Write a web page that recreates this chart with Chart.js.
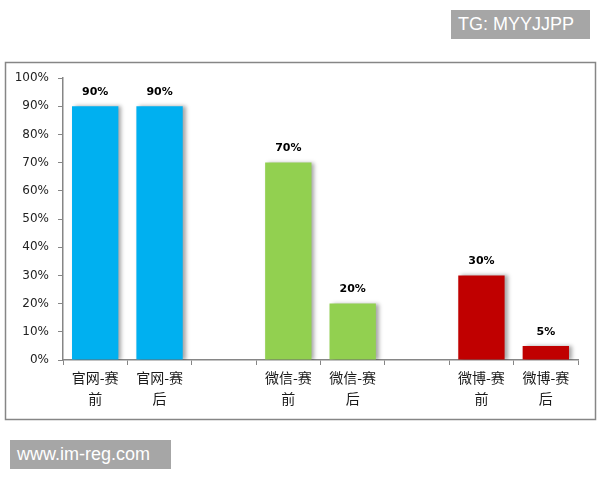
<!DOCTYPE html>
<html>
<head>
<meta charset="utf-8">
<script src="https://cdn.jsdelivr.net/npm/chart.js@4.4.1/dist/chart.umd.min.js"></script>
<style>
  body { margin: 0; background: #fff; }
  #wrap { position: relative; width: 600px; height: 480px; }
  .mark {
    position: absolute; background: #a6a6a6; color: #fff;
    font-family: "Liberation Sans", Arial, sans-serif; font-size: 18px;
    line-height: 29px; padding: 0 7px; box-sizing: border-box;
  }
</style>
</head>
<body>
<div id="wrap">
  <canvas id="chart" width="600" height="480"></canvas>
  <div class="mark" style="left:451px; top:10px; width:139px; height:29px;">TG: MYYJJPP</div>
  <div class="mark" style="left:10px; top:440px; width:161px; height:29px;">www.im-reg.com</div>
</div>
<script>
// categories (empty slots are the gaps between groups)
const categories = [
    ['官网-赛', '前'], ['官网-赛', '后'], '',
    ['微信-赛', '前'], ['微信-赛', '后'], '',
    ['微博-赛', '前'], ['微博-赛', '后']
];
const values = [90, 90, null, 70, 20, null, 30, 5];
const barColors = ['#00b0f0', '#00b0f0', '#fff', '#92d050', '#92d050', '#fff', '#c00000', '#c00000'];
const yTicks = [0, 10, 20, 30, 40, 50, 60, 70, 80, 90, 100];

// white background + grey frame round the chart
const framePlugin = {
    id: 'frame',
    beforeDraw(chart) {
        const ctx = chart.ctx;
        ctx.save();
        ctx.fillStyle = '#fff';
        ctx.fillRect(0, 0, chart.width, chart.height);
        ctx.strokeStyle = '#868686';
        ctx.lineWidth = 1.5;
        ctx.strokeRect(5.5, 62.5, 590, 357);
        ctx.restore();
    }
};

// soft shadow on the right of the bars
const shadowPlugin = {
    id: 'barShadow',
    beforeDatasetsDraw(chart) {
        const ctx = chart.ctx;
        ctx.save();
        ctx.shadowColor = 'rgba(0,0,0,0.35)';
        ctx.shadowBlur = 4;
        ctx.shadowOffsetX = 3;
        ctx.shadowOffsetY = 0;
    },
    afterDatasetsDraw(chart) {
        chart.ctx.restore();
    }
};

// value labels above bars
const labelPlugin = {
    id: 'valueLabels',
    afterDatasetsDraw(chart) {
        const ctx = chart.ctx;
        const meta = chart.getDatasetMeta(0);
        ctx.save();
        ctx.font = 'bold 11px "DejaVu Sans"';
        ctx.fillStyle = '#000';
        ctx.textAlign = 'center';
        ctx.textBaseline = 'middle';
        meta.data.forEach((bar, i) => {
            if (values[i] == null) return;
            ctx.fillText(values[i] + '%', bar.x, bar.y - 14);
        });
        ctx.restore();
    }
};

new Chart(document.getElementById('chart'), {
    type: 'bar',
    data: {
        labels: categories,
        datasets: [{
            data: values,
            backgroundColor: barColors,
            borderWidth: 0,
            categoryPercentage: 1,
            barPercentage: 0.72
        }]
    },
    options: {
        responsive: false,
        animation: false,
        layout: { padding: { left: 13, right: 22, top: 78, bottom: 60 } },
        plugins: { legend: { display: false }, tooltip: { enabled: false } },
        scales: {
            x: {
                afterFit(s) { s.height = 60; },
                grid: { offset: true, drawOnChartArea: false, drawTicks: true, tickLength: 5, color: '#868686' },
                border: { color: '#868686', width: 1.5 },
                ticks: {
                    padding: 3,
                    maxRotation: 0,
                    autoSkip: false,
                    color: '#1a1a1a',
                    font: { family: '"Noto Sans CJK SC"', size: 14, lineHeight: 1.45 }
                }
            },
            y: {
                min: 0,
                max: 100,
                afterFit(s) { s.width = 50; },
                afterBuildTicks(s) { s.ticks = yTicks.map(v => ({ value: v })); },
                grid: { drawOnChartArea: false, drawTicks: true, tickLength: 5, color: '#868686' },
                border: { color: '#868686', width: 1.5 },
                ticks: {
                    padding: 9,
                    color: '#222',
                    font: { family: '"DejaVu Sans"', size: 12 },
                    callback: v => v + '%'
                }
            }
        }
    },
    plugins: [framePlugin, shadowPlugin, labelPlugin]
});
</script>
</body>
</html>
